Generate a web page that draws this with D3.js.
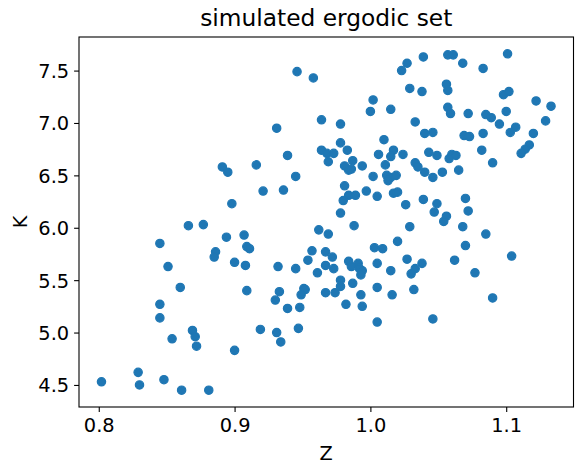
<!DOCTYPE html>
<meta charset="utf-8">
<style>
    body { margin: 0; background: white; }
    text { font-family: "DejaVu Sans", sans-serif; fill: black; }
</style>
<div id="chart"></div>
<script src="https://d3js.org/d3.v7.min.js"></script>
<script>
    // values
    var zValues = [0.866,0.877,0.845,0.851,0.860,0.845,0.845,0.869,0.871,0.854,0.872,0.829,0.802,0.830,0.848,0.861,0.881,
        0.894,0.907,0.909,0.911,0.886,0.885,0.900,0.908,0.932,0.945,0.962,0.969,0.957,0.967,0.954,0.967,0.961,0.909,0.933,0.930,0.951,0.952,0.949,0.967,0.939,0.948,0.919,0.931,0.934,0.947,0.900,
        0.946,0.958,0.964,0.931,0.964,0.968,0.969,0.939,0.891,0.895,0.916,0.945,0.921,0.936,0.898,
        1.039,1.027,1.023,1.029,1.038,1.002,1.000,1.015,0.978,1.033,1.040,1.046,1.010,0.978,0.973,0.983,0.987,0.981,0.984,0.986,0.994,1.006,1.017,1.015,1.011,1.024,1.033,1.035,1.043,1.049,1.002,1.012,1.015,1.019,1.013,1.040,1.046,0.981,0.997,1.005,1.017,1.020,0.984,0.989,0.980,1.026,1.039,1.049,1.047,0.978,0.988,1.029,
        1.020,1.003,1.009,0.972,0.984,0.991,0.986,0.973,0.992,0.994,0.993,1.005,1.027,1.038,1.033,1.030,1.015,0.978,0.978,0.987,1.005,0.974,0.993,1.016,1.032,0.982,0.994,1.005,1.046,
        1.057,1.061,1.068,1.083,1.101,1.056,1.057,1.098,1.102,1.122,1.133,1.057,1.059,1.072,1.085,1.089,1.100,1.095,1.129,1.107,1.103,1.083,1.069,1.073,1.120,1.117,1.114,1.111,1.082,1.060,1.063,1.058,1.090,1.053,1.065,1.070,1.072,1.056,1.054,1.068,
        1.085,1.070,1.062,1.104,1.077,1.090];

    var kValues = [6.02,6.03,5.85,5.63,5.43,5.27,5.14,5.02,4.96,4.94,4.87,4.62,4.53,4.50,4.55,4.45,4.45,
        5.91,5.93,5.82,5.80,5.77,5.72,5.67,5.64,5.63,5.61,5.98,5.94,5.78,5.77,5.69,5.64,5.57,5.40,5.39,5.31,5.42,5.41,5.36,5.38,5.23,5.24,5.03,5.00,4.91,5.04,4.83,
        7.49,7.43,7.03,6.95,6.74,6.71,6.63,6.69,6.58,6.53,6.60,6.49,6.35,6.36,6.23,
        7.63,7.57,7.50,7.33,7.30,7.22,7.11,7.13,6.99,7.01,6.90,6.91,6.84,6.81,6.71,6.74,6.64,6.59,6.55,6.56,6.59,6.70,6.74,6.68,6.60,6.70,6.62,6.58,6.72,6.69,6.49,6.50,6.48,6.50,6.45,6.53,6.48,6.40,6.35,6.30,6.33,6.34,6.31,6.31,6.26,6.22,6.27,6.23,6.15,6.14,6.02,6.01,
        5.87,5.81,5.80,5.72,5.68,5.66,5.63,5.61,5.61,5.59,5.55,5.66,5.70,5.66,5.61,5.56,5.59,5.50,5.44,5.47,5.43,5.38,5.36,5.36,5.41,5.27,5.25,5.10,5.13,
        7.65,7.65,7.57,7.52,7.66,7.37,7.31,7.27,7.30,7.21,7.16,7.15,7.09,7.09,7.08,7.05,7.11,6.99,7.02,6.96,6.91,6.90,6.88,6.87,6.90,6.79,6.75,6.71,6.74,6.70,6.69,6.66,6.62,6.53,6.55,6.28,6.16,6.11,6.06,6.01,
        5.94,5.83,5.69,5.73,5.57,5.33];

    var xTicks = [0.8, 0.9, 1.0, 1.1];
    var yTicks = [4.5, 5.0, 5.5, 6.0, 6.5, 7.0, 7.5];

    var points = zValues.map(function(z, i) { return {z: z, k: kValues[i]}; });

    var margin = {top: 37, right: 10.5, bottom: 65, left: 79},
        width = 584 - margin.left - margin.right,
        height = 472 - margin.top - margin.bottom;

    var svg = d3.select("#chart").append("svg")
        .attr("width", 584)
        .attr("height", 472);

    var g = svg.append("g")
        .attr("transform", "translate(" + margin.left + "," + margin.top + ")");

    // 5% padding like matplotlib autoscale
    function padded(ext) {
        var p = (ext[1] - ext[0]) * 0.05;
        return [ext[0] - p, ext[1] + p];
    }

    var x = d3.scaleLinear()
        .domain(padded(d3.extent(zValues)))
        .range([0, width]);

    var y = d3.scaleLinear()
        .domain(padded(d3.extent(kValues)))
        .range([height, 0]);

    // points
    g.selectAll("circle")
        .data(points)
        .enter()
        .append("circle")
            .attr("cx", function(d) { return x(d.z); })
            .attr("cy", function(d) { return y(d.k); })
            .attr("r", 4.17)
            .style("fill", "#1f77b4")
            .style("stroke", "#1f77b4")
            .style("stroke-width", 1.2);

    // X axis
    var xAxis = g.append("g")
        .attr("transform", "translate(0," + height + ")")
        .call(d3.axisBottom(x).tickValues(xTicks).tickFormat(d3.format(".1f")).tickSizeInner(4.9).tickSizeOuter(0).tickPadding(4.9));

    // Y axis
    var yAxis = g.append("g")
        .call(d3.axisLeft(y).tickValues(yTicks).tickFormat(d3.format(".1f")).tickSizeInner(4.9).tickSizeOuter(0).tickPadding(4.9));

    [xAxis, yAxis].forEach(function(a) {
        a.select(".domain").remove();
        a.selectAll(".tick line").attr("stroke", "black").attr("stroke-width", 1.1);
        a.selectAll(".tick text")
            .style("font-family", "'DejaVu Sans', sans-serif")
            .style("font-size", "19.4px")
            .attr("fill", "black");
    });
    xAxis.selectAll(".tick text").attr("dy", "0.76em");
    yAxis.selectAll(".tick text").attr("dy", "0.36em");

    // frame
    g.append("rect")
        .attr("width", width)
        .attr("height", height)
        .attr("fill", "none")
        .attr("stroke", "black")
        .attr("stroke-width", 1.1);

    // title and labels
    svg.append("text")
        .attr("x", margin.left + width / 2)
        .attr("y", 26)
        .attr("text-anchor", "middle")
        .style("font-size", "23.3px")
        .text("simulated ergodic set");

    svg.append("text")
        .attr("x", margin.left + width / 2)
        .attr("y", 460)
        .attr("text-anchor", "middle")
        .style("font-size", "19.4px")
        .text("Z");

    svg.append("text")
        .attr("transform", "translate(26.5," + (margin.top + height / 2) + ") rotate(-90)")
        .attr("text-anchor", "middle")
        .style("font-size", "19.4px")
        .text("K");
</script>
